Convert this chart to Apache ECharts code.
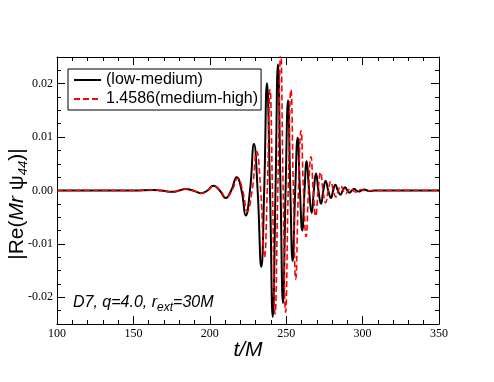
<!DOCTYPE html>
<html>
<head>
<meta charset="utf-8">
<script src="https://cdn.jsdelivr.net/npm/echarts@6/dist/echarts.min.js"></script>
<style>html,body{margin:0;padding:0;background:#fff;}#c{width:494px;height:382px;}</style>
</head>
<body>
<div id="c"></div>
<script>
// ---- data (extrema and zero crossings) ----
const seriesNames = ['(low-medium)', '1.4586(medium-high)'];
const tLowMed = [100,150,163,168,175.5,180,184.2,189,194.2,198.5,202.3,206.5,210.4,214,217.6,220.8,223.5,226.3,228.9,231.3,233.7,235.6,237.4,239.4,241.2,243,244.6,246.3,247.9,249.6,251.2,252.7,254.2,255.9,257.5,259,260.5,262,263.4,265,266.7,268.1,269.5,271.1,272.8,274.3,275.8,277.5,279.3,280.7,282.2,283.8,285.5,287,288.5,290,291.5,293,294.5,296,297.5,299.2,301,303,305,308,350];
const vLowMed = [0,0,0.0001,0,-0.00025,0,0.0003,0,-0.0005,0,0.0009,0,-0.0014,0,0.0025,0,-0.0047,0,0.0087,0,-0.0143,0,0.0201,0,-0.0237,0,0.0236,0,-0.0211,0,0.0169,0,-0.0132,0,0.0099,0,-0.0075,0,0.0055,0,-0.0042,0,0.0032,0,-0.0025,0,0.0018,0,-0.0014,0,0.0011,0,-0.0008,0,0.0006,0,-0.0004,0,0.0003,0,-0.0002,0,0.0002,0,-0.0001,0,0];
const tMedHigh = [100,150,163,168,175.5,180,184.4,189.2,194.5,198.8,202.6,206.8,210.8,214.5,218.3,221.5,224.5,227.7,230.7,233.3,235.7,237.6,239.4,241,242.7,244.5,246.4,248,249.6,251.3,253.1,254.7,256.2,258,259.7,261.3,263,264.6,266.2,267.7,269.3,270.9,272.5,274.1,275.8,277.5,279.2,280.8,282.5,284.1,285.7,287.3,289,290.6,292.2,293.8,295.5,297.2,299,301,303,306,350];
const vMedHigh = [0,0,0.0001,0,-0.00025,0,0.0003,0,-0.0005,0,0.0009,0,-0.0013,0,0.0023,0,-0.0039,0,0.0073,0,-0.0125,0,0.0189,0,-0.0231,0,0.0256,0,-0.0228,0,0.0189,0,-0.0166,0,0.0112,0,-0.0086,0,0.0063,0,-0.0048,0,0.0034,0,-0.0023,0,0.0017,0,-0.0012,0,0.0009,0,-0.0006,0,0.0004,0,-0.0003,0,0.0002,0,-0.0001,0,0];
const yMajorTicks = [-0.02,-0.01,0,0.01,0.02];
const xRange = [100, 350];
const yRange = [-0.025, 0.025];

const pair = (ts, vs) => ts.map((t, i) => [t, vs[i]]);
const serif = 'Liberation Serif';
const sans = 'Liberation Sans';

const baseX = {
  type: 'value', min: xRange[0], max: xRange[1], interval: 50,
  axisLine: {show: true, onZero: false, lineStyle: {color: '#000', width: 1}},
  axisTick: {show: true, inside: true, length: 8, lineStyle: {color: '#000'}},
  minorTick: {show: true, splitNumber: 5, length: 4, lineStyle: {color: '#000'}},
  splitLine: {show: false}, minorSplitLine: {show: false}
};
const baseY = {
  type: 'value', min: yRange[0], max: yRange[1],
  splitLine: {show: false}
};

const chart = echarts.init(document.getElementById('c'), null, {renderer: 'canvas'});
chart.setOption({
  animation: false,
  backgroundColor: '#fff',
  grid: {left: 57, top: 57, width: 382, height: 267, containLabel: false},
  xAxis: [
    Object.assign({}, baseX, {position: 'bottom',
      axisLabel: {show: true, margin: 4, color: '#000', fontFamily: serif, fontSize: 12}}),
    Object.assign({}, baseX, {position: 'top', axisLabel: {show: false}})
  ],
  yAxis: [
    Object.assign({}, baseY, {position: 'left',
      axisLine: {show: true, onZero: false, lineStyle: {color: '#000', width: 1}},
      axisTick: {show: true, inside: true, length: 8, customValues: yMajorTicks, lineStyle: {color: '#000'}},
      axisLabel: {show: true, customValues: yMajorTicks, margin: 4, color: '#000', fontFamily: serif, fontSize: 12,
        formatter: v => (Math.abs(v) < 1e-9 ? 0 : v).toFixed(2)}}),
    Object.assign({}, baseY, {position: 'left', interval: 0.0025,
      axisLine: {show: false, onZero: false},
      axisTick: {show: true, inside: true, length: 4, lineStyle: {color: '#000'}},
      axisLabel: {show: false}}),
    Object.assign({}, baseY, {position: 'right',
      axisLine: {show: true, onZero: false, lineStyle: {color: '#000', width: 1}},
      axisTick: {show: true, inside: true, length: 8, customValues: yMajorTicks, lineStyle: {color: '#000'}},
      axisLabel: {show: false}}),
    Object.assign({}, baseY, {position: 'right', interval: 0.0025,
      axisLine: {show: false, onZero: false},
      axisTick: {show: true, inside: true, length: 4, lineStyle: {color: '#000'}},
      axisLabel: {show: false}})
  ],
  legend: {
    show: true, orient: 'vertical', left: 68, top: 69,
    padding: [3, 3, 3, 5], itemGap: 3, itemWidth: 27, itemHeight: 16,
    borderColor: '#000', borderWidth: 1, backgroundColor: '#fff',
    itemStyle: {opacity: 0},
    textStyle: {color: '#000', fontFamily: sans, fontSize: 16},
    data: seriesNames
  },
  series: [
    {name: seriesNames[0], type: 'line', xAxisIndex: 0, yAxisIndex: 0, data: pair(tLowMed, vLowMed),
      smooth: 0.5, symbol: 'none', lineStyle: {color: '#000', width: 2}, itemStyle: {color: '#000'}, z: 2},
    {name: seriesNames[1], type: 'line', xAxisIndex: 0, yAxisIndex: 0, data: pair(tMedHigh, vMedHigh),
      smooth: 0.5, symbol: 'none', lineStyle: {color: '#ff0000', width: 1.6, type: [6, 3]}, itemStyle: {color: '#ff0000'}, z: 3}
  ],
  graphic: [
    {type: 'text', x: 17, y: 204, rotation: Math.PI / 2,
      style: {
        text: '|Re({i|Mr} ψ{sub|44})|',
        fill: '#000', font: '21px ' + sans, align: 'center', verticalAlign: 'middle',
        rich: {
          i: {fontStyle: 'italic', fontSize: 21, fontFamily: sans},
          sub: {fontStyle: 'italic', fontSize: 13, fontFamily: sans, padding: [12, 0, 0, 0]}
        }
      }},
    {type: 'text', x: 248, y: 350,
      style: {text: 't/M', fill: '#000', font: 'italic 21px ' + sans, align: 'center', verticalAlign: 'middle'}},
    {type: 'text', x: 73, y: 303,
      style: {
        text: 'D7, q=4.0, r{sub|ext}=30M',
        fill: '#000', font: 'italic 16px ' + sans, align: 'left', verticalAlign: 'middle',
        rich: {sub: {fontStyle: 'italic', fontSize: 12, fontFamily: sans, padding: [10, 0, 0, 0]}}
      }}
  ]
});
</script>
</body>
</html>
